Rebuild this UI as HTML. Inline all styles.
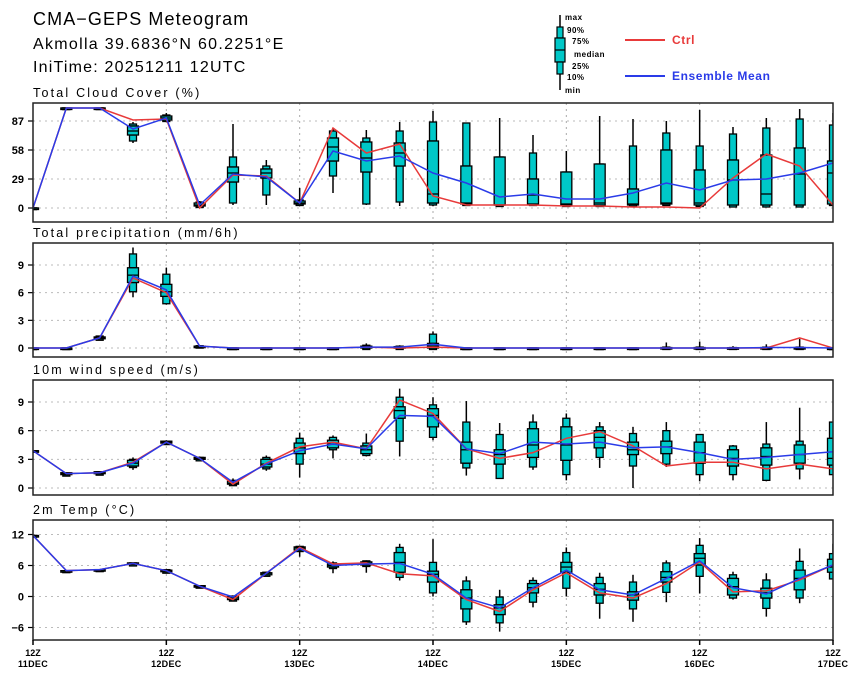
<!DOCTYPE html>
<html><head><meta charset="utf-8"><style>
body{margin:0;background:#fff;}
svg{display:block;font-family:"Liberation Sans",sans-serif;}
</style></head><body>
<svg id="chart" width="859" height="678" viewBox="0 0 859 678" xmlns="http://www.w3.org/2000/svg">
<rect width="859" height="678" fill="#fff"/>
<text x="33" y="25" font-size="18" letter-spacing="1.1">CMA−GEPS Meteogram</text>
<text x="33" y="49" font-size="16" letter-spacing="1.3">Akmolla 39.6836°N 60.2251°E</text>
<text x="33" y="72" font-size="16" letter-spacing="1.2">IniTime: 20251211 12UTC</text>
<g font-size="8" font-weight="bold" letter-spacing="0.5">
<line x1="560" y1="15" x2="560" y2="90" stroke="#000" stroke-width="1.5"/>
<rect x="557" y="27" width="6" height="11" fill="#00c8c8" stroke="#000" stroke-width="1.2"/>
<rect x="555" y="38" width="10" height="24" fill="#00c8c8" stroke="#000" stroke-width="1.2"/>
<line x1="555" y1="50" x2="565" y2="50" stroke="#000" stroke-width="1.2"/>
<rect x="557" y="62" width="6" height="12" fill="#00c8c8" stroke="#000" stroke-width="1.2"/>
<text x="565" y="20">max</text><text x="567" y="33">90%</text><text x="572" y="44">75%</text>
<text x="574" y="57">median</text><text x="572" y="69">25%</text><text x="567" y="80">10%</text><text x="565" y="93">min</text>
</g>
<g><line x1="625" y1="40" x2="665" y2="40" stroke="#e83a3a" stroke-width="2"/><text x="672" y="44" font-size="12" font-weight="bold" fill="#e83a3a" letter-spacing="0.6">Ctrl</text></g>
<g><line x1="625" y1="76" x2="665" y2="76" stroke="#2a3be8" stroke-width="2"/><text x="672" y="80" font-size="12" font-weight="bold" fill="#2a3be8" letter-spacing="0.6">Ensemble Mean</text></g>
</svg>
<script>
// time axis
const xLabelsTop = ["12Z","12Z","12Z","12Z","12Z","12Z","12Z"];
const xLabelsBot = ["11DEC","12DEC","13DEC","14DEC","15DEC","16DEC","17DEC"];
// Cloud cover
const ccMax=[0,100,100,86,95,7,84,48,20,80,78,86,97,85,90,73,57,92,89,87,98,81,90,99,95];
const ccP90=[0,100,100,84,93,6,51,42,8,77,70,77,86,85,51,55,36,44,62,75,62,74,80,89,83];
const ccP75=[0,100,100,82,92,5,41,39,7,70,66,65,67,42,51,29,36,44,19,58,38,48,53,60,47];
const ccMed=[0,100,100,77,90,3,35,35,5,61,50,55,14,5,3,13,4,5,4,5,5,28,14,34,35];
const ccP25=[0,100,100,73,88,2,26,30,4,47,36,42,5,4,3,4,3,3,3,4,3,3,3,3,4];
const ccP10=[0,100,100,67,87,1,5,13,3,32,4,6,3,3,3,3,3,3,3,4,2,1,1,1,3];
const ccMin=[0,100,100,65,86,0,3,3,2,15,3,2,2,2,2,2,2,2,2,2,1,1,1,1,2];
const ccCtrl=[0,100,100,88,89,0,33,32,5,80,55,64,12,3,3,3,2,2,1,1,0,30,54,42,3];
const ccMean=[0,100,100,79,90,3,34,31,5,57,47,52,35,25,11,14,9,9,15,25,18,28,29,35,45];
const ccTicks=[0,29,58,87];
// Precipitation
const prMax=[0,0,1.3,10.9,8.7,0.3,0,0,0,0,0.5,0.3,1.8,0,0,0,0,0,0,0.6,0.7,0.2,0.4,1.0,0];
const prP90=[0,0,1.3,10.2,8.0,0.25,0,0,0,0,0.3,0.2,1.5,0,0,0,0,0,0,0.1,0.1,0.05,0.1,0.1,0];
const prP75=[0,0,1.2,8.7,6.9,0.2,0,0,0,0,0.2,0.15,0.5,0,0,0,0,0,0,0.05,0.05,0.03,0.05,0.05,0];
const prMed=[0,0,1.1,7.9,6.1,0.2,0,0,0,0,0.1,0.1,0.2,0,0,0,0,0,0,0,0,0,0,0,0];
const prP25=[0,0,1.0,7.1,5.6,0.15,0,0,0,0,0,0,0,0,0,0,0,0,0,0,0,0,0,0,0];
const prP10=[0,0,0.9,6.1,4.8,0.1,0,0,0,0,0,0,0,0,0,0,0,0,0,0,0,0,0,0,0];
const prMin=[0,0,0.9,5.5,4.7,0.1,0,0,0,0,0,0,0,0,0,0,0,0,0,0,0,0,0,0,0];
const prCtrl=[0,0,1.1,7.6,6.0,0.2,0,0,0,0,0.1,0,0.1,0,0,0,0,0,0,0,0,0,0,1.1,0];
const prMean=[0,0,1.1,7.8,6.3,0.2,0,0,0,0,0.1,0.1,0.4,0,0,0,0,0,0,0,0,0,0.05,0.05,0];
const prTicks=[0,3,6,9];
// Wind
const wsMax=[3.9,1.6,1.7,3.2,5.0,3.3,1.0,3.4,5.8,5.5,5.7,10.4,9.5,9.1,6.8,7.7,7.8,6.9,6.4,6.9,5.6,4.5,6.9,8.4,6.9];
const wsP90=[3.9,1.6,1.7,3.0,4.9,3.2,0.8,3.2,5.2,5.3,4.7,9.5,8.7,6.9,5.6,6.9,7.3,6.4,5.7,6.0,5.6,4.4,4.6,4.9,6.9];
const wsP75=[3.9,1.6,1.7,2.9,4.9,3.2,0.7,3.0,4.7,5.0,4.4,8.5,8.3,4.8,4.0,6.2,6.4,6.0,4.8,4.9,4.8,4.0,4.2,4.5,5.2];
const wsMed=[3.9,1.5,1.6,2.6,4.8,3.1,0.5,2.5,4.2,4.6,4.0,8.1,7.6,4.0,3.5,4.5,4.5,5.3,4.0,4.3,3.7,3.1,3.3,3.5,3.1];
const wsP25=[3.9,1.4,1.5,2.3,4.7,3.0,0.4,2.2,3.6,4.2,3.6,7.3,6.4,2.6,2.5,3.2,2.9,4.2,3.5,3.6,2.6,2.3,2.4,2.6,2.4];
const wsP10=[3.9,1.4,1.5,2.2,4.6,2.9,0.3,2.0,2.5,4.0,3.4,4.9,5.3,2.1,1.0,2.2,1.4,3.2,2.3,2.5,1.4,1.4,0.8,2.0,1.4];
const wsMin=[3.9,1.4,1.5,1.9,4.5,2.9,0.3,1.8,1.1,3.1,3.3,3.3,5.0,1.3,1.0,1.9,0.8,2.1,0.0,2.2,0.7,0.8,0.7,0.9,1.4];
const wsCtrl=[3.9,1.5,1.6,2.7,4.8,3.1,0.4,2.6,4.3,4.8,4.1,9.2,7.8,4.1,3.1,3.7,5.2,5.9,4.4,2.3,2.7,2.7,2.0,2.5,2.0];
const wsMean=[3.9,1.5,1.6,2.6,4.8,3.1,0.6,2.5,3.9,4.6,4.1,7.6,7.5,4.1,3.6,4.8,4.6,4.8,4.2,4.3,3.7,3.0,3.2,3.5,3.8];
const wsTicks=[0,3,6,9];
// Temperature
const tMax=[11.8,5.0,5.2,6.6,5.3,2.2,0.2,4.8,9.8,6.8,7.0,10.2,11.1,3.9,1.3,3.7,9.5,4.6,4.2,7.0,11.3,4.8,4.5,9.3,10.2];
const tP90=[11.8,5.0,5.2,6.5,5.2,2.1,0.1,4.7,9.7,6.5,6.9,9.5,6.6,3.0,-0.1,3.1,8.5,3.7,2.8,6.5,9.9,4.2,3.2,6.8,8.3];
const tP75=[11.8,5.0,5.2,6.5,5.1,2.1,0,4.6,9.6,6.3,6.7,8.5,4.9,1.3,-1.6,2.5,6.6,2.5,0.9,4.8,8.3,3.5,1.6,5.1,7.2];
const tMed=[11.8,5.0,5.2,6.4,5.0,2.0,-0.3,4.5,9.4,6.0,6.4,6.6,4.3,-0.3,-2.2,1.7,5.7,1.4,0.3,3.7,7.4,1.9,0.7,3.5,5.7];
const tP25=[11.8,4.9,5.1,6.2,4.8,1.9,-0.6,4.2,9.0,5.7,6.1,4.7,2.8,-2.4,-3.5,0.7,4.7,0.3,-0.7,2.8,6.1,0.3,-0.3,1.3,4.7];
const tP10=[11.8,4.9,5.1,6.1,4.6,1.9,-0.8,4.0,8.7,5.6,6.0,3.7,0.7,-4.9,-5.1,-1.1,1.6,-1.3,-2.4,0.8,3.9,-0.3,-2.3,-0.3,3.4];
const tMin=[11.8,4.9,5.1,6.0,4.5,1.8,-0.9,3.9,7.7,4.5,4.6,3.1,0,-5.5,-6.8,-2.1,0,-4.3,-4.9,-1.1,0.6,-0.6,-3.9,-1.3,3.4];
const tCtrl=[11.8,5.0,5.2,6.4,5.0,2.0,-0.6,4.5,9.5,6.3,6.5,4.4,4.0,-0.6,-2.9,1.3,4.6,0.7,-0.3,2.5,6.7,0.9,1.1,3.2,6.1];
const tMean=[11.8,5.0,5.2,6.4,5.0,2.0,-0.1,4.5,9.3,6.0,6.3,6.4,4.3,-0.3,-2.2,1.7,5.1,1.3,0.3,3.5,6.9,1.7,0.5,3.5,6.1];
const tTicks=[-6,0,6,12];

const NS="http://www.w3.org/2000/svg";
const svg=document.getElementById('chart');
const X0=33,X1=833,NSTEP=24;
function xs(i){return X0+(X1-X0)*i/NSTEP;}
function mk(tag,attrs,parent){const e=document.createElementNS(NS,tag);for(const k in attrs)e.setAttribute(k,attrs[k]);(parent||svg).appendChild(e);return e;}

const panels=[
 {key:'cloud',title:'Total Cloud Cover (%)',top:103,bot:222,v0:0,p0:208,v1:87,p1:121,ticks:ccTicks,d:[ccMin,ccP10,ccP25,ccMed,ccP75,ccP90,ccMax],ctrl:ccCtrl,mean:ccMean},
 {key:'precip',title:'Total precipitation (mm/6h)',top:243,bot:357,v0:0,p0:348,v1:9,p1:265,ticks:prTicks,d:[prMin,prP10,prP25,prMed,prP75,prP90,prMax],ctrl:prCtrl,mean:prMean},
 {key:'wind',title:'10m wind speed (m/s)',top:380,bot:495,v0:0,p0:488,v1:9,p1:402,ticks:wsTicks,d:[wsMin,wsP10,wsP25,wsMed,wsP75,wsP90,wsMax],ctrl:wsCtrl,mean:wsMean},
 {key:'temp',title:'2m Temp (°C)',top:520,bot:640,v0:0,p0:596.5,v1:12,p1:534.5,ticks:tTicks,d:[tMin,tP10,tP25,tMed,tP75,tP90,tMax],ctrl:tCtrl,mean:tMean}
];

panels.forEach((P,pi)=>{
 const ys=v=>P.p0+(v-P.v0)*(P.p1-P.p0)/(P.v1-P.v0);
 const g=mk('g',{});
 
 
 const t=mk('text',{x:33,y:P.top-6,'font-size':12.5,'letter-spacing':2.2},g);
 t.textContent=P.title;
 
 
 const cp=mk('clipPath',{id:'clip'+pi},g);
 mk('rect',{x:X0,y:P.top,width:X1-X0,height:P.bot-P.top},cp);
 P.ticks.forEach(v=>{
  const y=ys(v);
  const gl=mk('line',{x1:X0,x2:X1,y1:y,y2:y,stroke:'#bbb','stroke-width':1,'stroke-dasharray':'2,4'},g);
  
  
  mk('line',{x1:X0-5,x2:X0,y1:y,y2:y,stroke:'#000','stroke-width':1.2},g);
  const tl=mk('text',{x:24,y:y+4,'font-size':11,'font-weight':'bold','text-anchor':'end'},g);
  tl.textContent=(v<0?'−'+(-v):v);
  
  
 });
 for(let d=1;d<6;d++){
  const x=xs(d*4);
  mk('line',{x1:x,x2:x,y1:P.top,y2:P.bot,stroke:'#aaa','stroke-width':1,'stroke-dasharray':'2,4'},g);
 }
 const cg=mk('g',{'clip-path':'url(#clip'+pi+')'},g);
 for(let i=0;i<=NSTEP;i++){
  const x=xs(i);const [mn,p10,p25,md,p75,p90,mx]=P.d.map(a=>a[i]);
  const b=mk('g',{},cg);
  
  
  mk('line',{x1:x,x2:x,y1:ys(mx),y2:ys(p90),stroke:'#000','stroke-width':1.5},b);
  mk('line',{x1:x,x2:x,y1:ys(p10),y2:ys(mn),stroke:'#000','stroke-width':1.5},b);
  const rb=(lo,hi,w)=>{const y1=ys(hi),y2=ys(lo);mk('rect',{x:x-w/2,y:y1,width:w,height:Math.max(y2-y1,1.5),fill:'#00c8c8',stroke:'#000','stroke-width':1.3},b);};
  rb(p75,p90,7);rb(p10,p25,7);rb(p25,p75,11);
  mk('line',{x1:x-5.5,x2:x+5.5,y1:ys(md),y2:ys(md),stroke:'#000','stroke-width':1.3},b);
 }
 const pts=a=>a.map((v,i)=>xs(i)+','+ys(v)).join(' ');
 const lc=mk('polyline',{points:pts(P.ctrl),fill:'none',stroke:'#e83a3a','stroke-width':1.5},cg);
 
 
 const lm=mk('polyline',{points:pts(P.mean),fill:'none',stroke:'#2a3be8','stroke-width':1.5},cg);
 
 
 const fr=mk('rect',{x:X0,y:P.top,width:X1-X0,height:P.bot-P.top,fill:'none',stroke:'#222','stroke-width':1.5},g);
 
 
});
xLabelsTop.forEach((lab,d)=>{
 const x=xs(d*4);
 mk('line',{x1:x,x2:x,y1:640,y2:645,stroke:'#000','stroke-width':1.5});
 const a=mk('text',{x:x,y:656,'font-size':9,'font-weight':'bold','text-anchor':'middle'});
 a.textContent=lab;
 
 
 const b=mk('text',{x:x,y:667,'font-size':9,'font-weight':'bold','text-anchor':'middle','letter-spacing':0.3});
 b.textContent=xLabelsBot[d];
 
 
});
</script>
</body></html>
